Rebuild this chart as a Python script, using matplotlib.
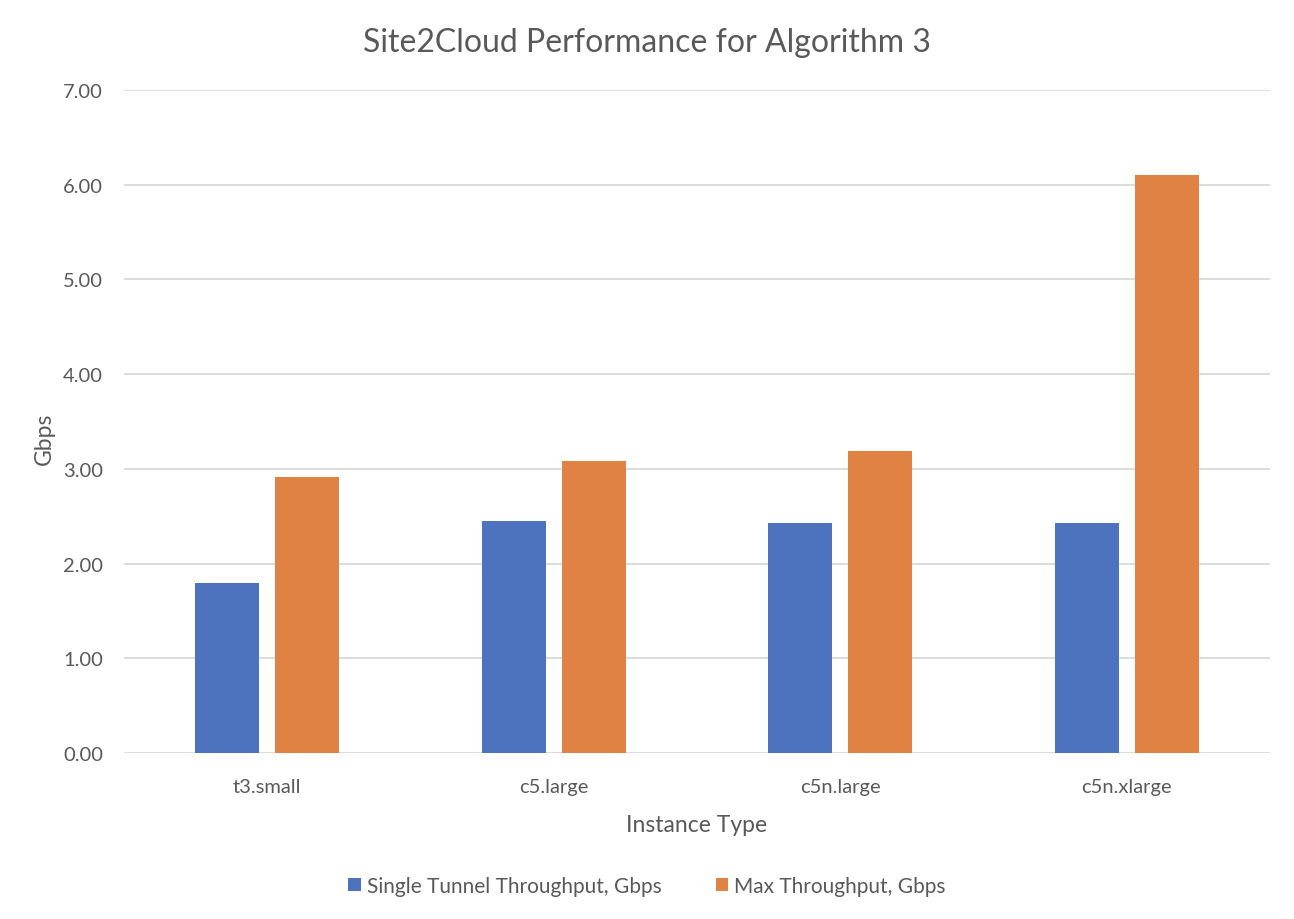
import numpy as np
import matplotlib.pyplot as plt

categories = ["t3.small", "c5.large", "c5n.large", "c5n.xlarge"]
single_tunnel = [1.80, 2.45, 2.43, 2.43]
max_throughput = [2.91, 3.08, 3.19, 6.10]

blue = "#4E73BE"
orange = "#E08244"
grey_text = "#595959"

plt.rcParams['font.family'] = ['Lato', 'DejaVu Sans']

fig = plt.figure(figsize=(12.94, 9.2), dpi=100)
ax = fig.add_axes([124/1294, 1-754/920, (1270-124)/1294, (754-91)/920])

x = np.arange(len(categories))
w = 0.223
off = 0.14
ax.bar(x - off, single_tunnel, w, color=blue, label="Single Tunnel Throughput, Gbps", zorder=3)
ax.bar(x + off, max_throughput, w, color=orange, label="Max Throughput, Gbps", zorder=3)

ax.set_xlim(-0.5, len(categories) - 0.5)
ax.set_ylim(0, 7)
ax.set_yticks(np.arange(0, 8, 1))
ax.set_yticklabels([f"{v:.2f}" for v in np.arange(0, 8, 1)])
ax.set_xticks(x)
ax.set_xticklabels(categories)
ax.tick_params(axis='both', length=0, labelsize=14.5, colors=grey_text)
ax.tick_params(axis='y', pad=15)
ax.tick_params(axis='x', pad=18)
ax.grid(axis='y', color="#D9D9D9", linewidth=1.3, zorder=0)
for s in ax.spines.values():
    s.set_visible(False)

# title centred on the whole figure, like the original
fig.text(0.5, 1 - 43/920, "Site2Cloud Performance for Algorithm 3", fontsize=23,
         color=grey_text, ha='center', va='center')
ax.set_xlabel("Instance Type", fontsize=16.5, color=grey_text, labelpad=14)
ax.set_ylabel("Gbps", fontsize=16.5, color=grey_text)
ax.yaxis.set_label_coords((55 - 124) / (1270 - 124), 0.475)

fig.legend(loc='center', bbox_to_anchor=(0.5, 1 - 887/920), ncol=2, frameon=False,
           fontsize=15, labelcolor=grey_text, handlelength=0.6, handleheight=0.6,
           handletextpad=0.3, columnspacing=2.6)

fig.savefig("out.png", dpi=100)
